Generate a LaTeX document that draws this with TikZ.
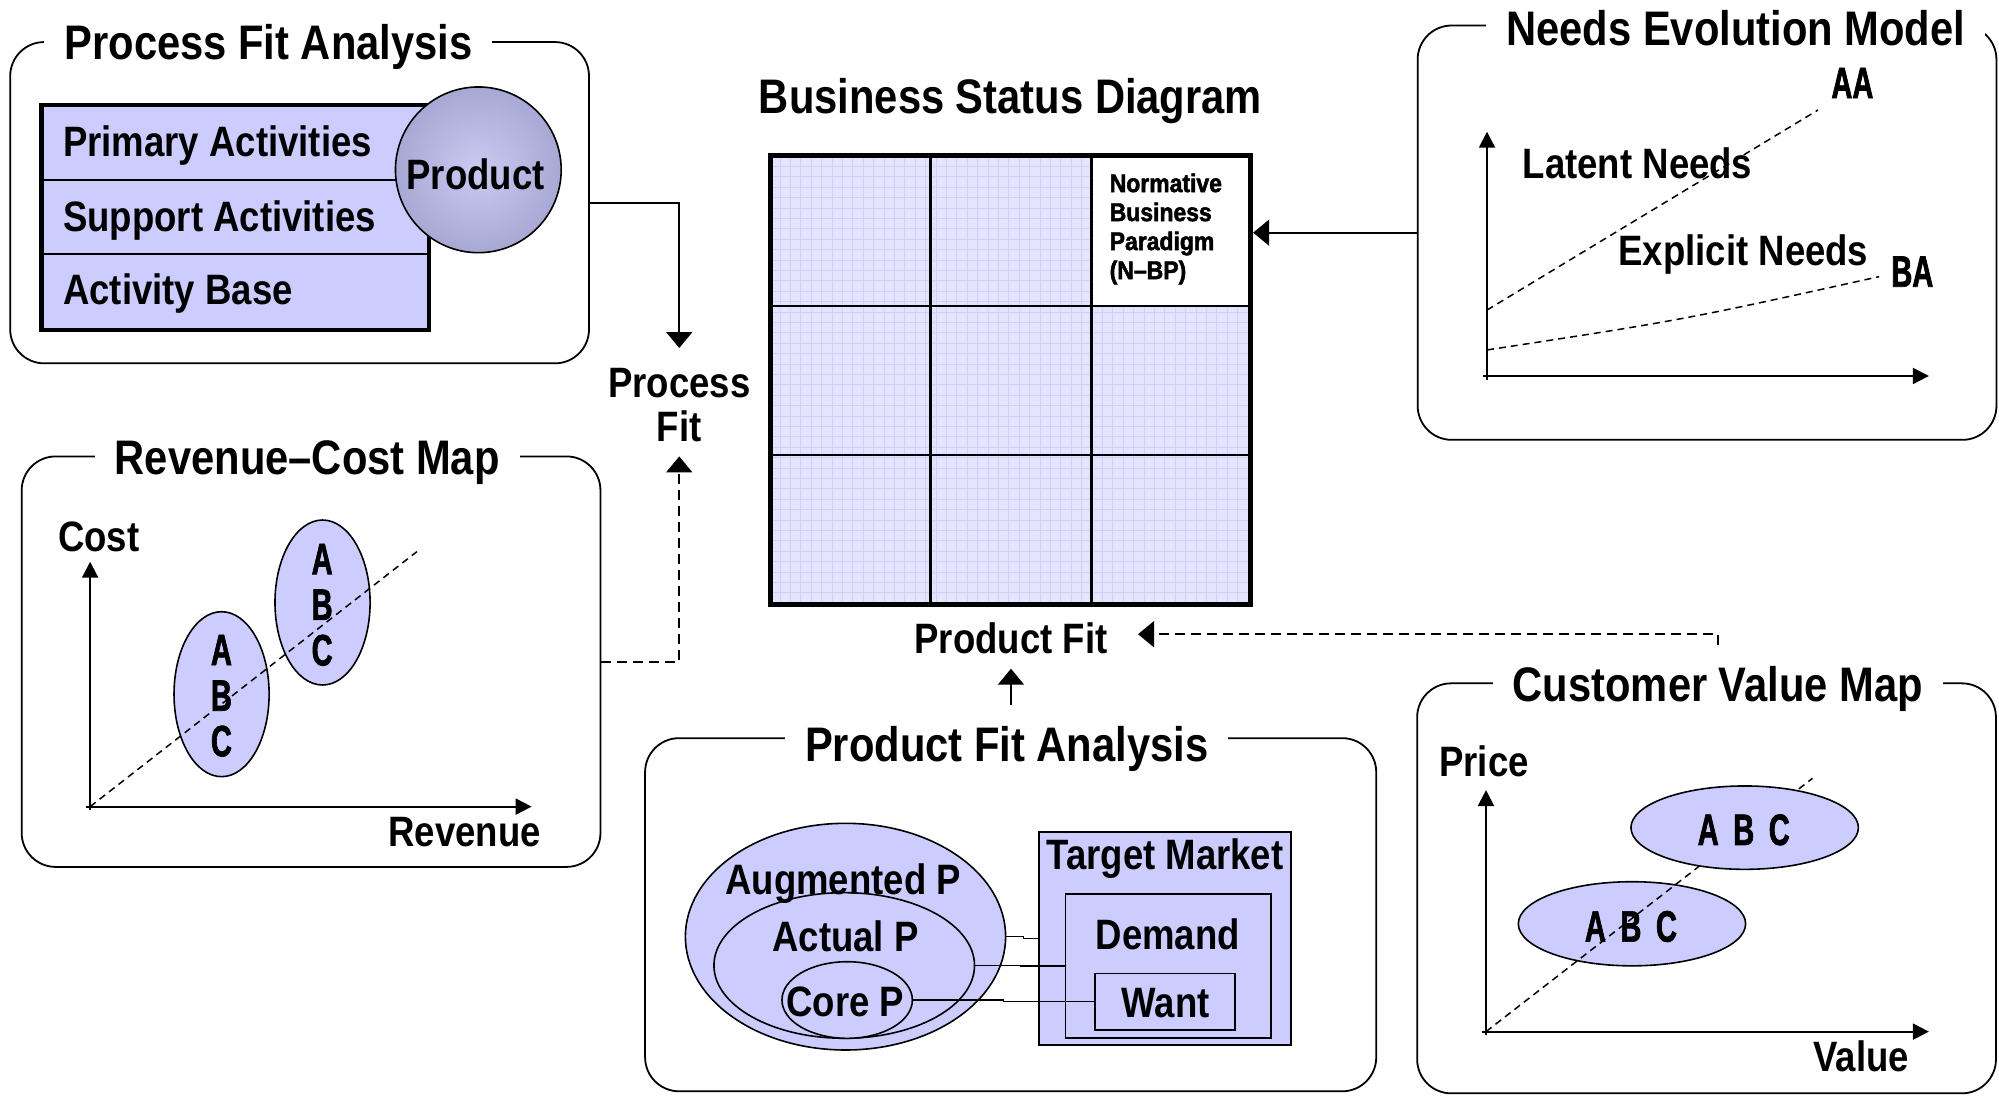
\documentclass[tikz,border=0pt]{standalone}
\usepackage{fontspec}
\setmainfont{Liberation Sans}[FakeStretch=0.86]
\newfontfamily\nbpfont{Liberation Sans}[FakeStretch=0.9, FakeBold=2]
\newfontfamily\tallfont{Liberation Sans}[UprightFont=* Bold, BoldFont=* Bold, FakeStretch=0.66, FakeBold=1.5]
\usetikzlibrary{arrows.meta, shapes.geometric, fit, calc}

\definecolor{lav}{RGB}{204,204,255}
\definecolor{gridbg}{RGB}{228,228,255}
\definecolor{gridln}{RGB}{208,208,250}
\definecolor{prodin}{RGB}{202,202,242}
\definecolor{prodout}{RGB}{168,168,212}

% one drawing unit, in points
\newcommand{\dpx}{1.2749pt}

\tikzset{
  panel/.style={draw, line width=1.8pt, rounded corners=34pt, inner sep=0},
  ttl/.style={font=\fontsize{48.5}{52}\selectfont\bfseries, fill=white,
              inner xsep=20pt, inner ysep=2pt, anchor=base},
  txt/.style={font=\fontsize{42.5}{46}\selectfont\bfseries, inner sep=0, anchor=base},
  sml/.style={font=\tallfont\fontsize{44}{46}\selectfont, inner sep=0, anchor=base},
  stack/.style={font=\tallfont\fontsize{44}{45.6}\selectfont, inner sep=0,
                anchor=north, align=center},
  conn/.style={line width=1.8pt, -{Triangle[width=26pt,length=16pt]}},
  dconn/.style={conn, dash pattern=on 10pt off 6pt},
  axis/.style={line width=2pt, -{Triangle[width=16pt,length=16pt]}},
  trend/.style={line width=1.5pt, dash pattern=on 7pt off 5pt},
  blob/.style={ellipse, draw, line width=1.6pt, fill=lav, inner sep=0},
  box/.style={rectangle, draw, fill=lav, inner sep=0},
}

\begin{document}
\begin{tikzpicture}[x=1.2749pt, y=-1.2749pt, font=\bfseries]
\useasboundingbox (0,0) rectangle (1568,860);

% ---------------- Process Fit Analysis ----------------
\node[panel, minimum width=454*\dpx, minimum height=252*\dpx] (pfa) at (235,159) {};
\node[ttl] (pfat) at (210.6,47) {Process Fit Analysis};
\node[box, line width=4.5pt, minimum width=303.9*\dpx, minimum height=176.4*\dpx] (acts) at (184.55,170.6) {};
\draw[line width=1.6pt] (32.6,141.2) -- (336.5,141.2) (32.6,199.2) -- (336.5,199.2);
\node[txt, anchor=base west] (prim) at (49.4,123) {Primary Activities};
\node[txt, anchor=base west] (supp) at (49.4,181.5) {Support Activities};
\node[txt, anchor=base west] (abase) at (49.4,239) {Activity Base};
\node[circle, draw, line width=1.6pt, inner color=prodin, outer color=prodout,
      minimum size=130*\dpx, inner sep=0] (prodc) at (375.2,133.2) {};
\node[txt] (prodt) at (373,149) {Product};

% ---------------- Process Fit ----------------
\node[txt, outer ysep=20.5pt] (proc) at (532.8,312) {Process};
\node[txt, outer ysep=14.4pt] (procfit) at (532.8,346.4) {Fit};
\draw[conn] (pfa.east) -| (proc.north);

% ---------------- Revenue-Cost Map ----------------
\node[panel, minimum width=454*\dpx, minimum height=322*\dpx] (rcm) at (244,519) {};
\node[ttl] (rcmt) at (241,372) {Revenue–Cost Map};
\coordinate (ro) at (70.7,632.7);
\draw[axis] ($(ro)+(-3,0)$) -- (417,632.7);
\draw[axis] ($(ro)+(0,3)$) -- (70.7,440.6);
\node[blob, minimum width=74.6*\dpx, minimum height=129.4*\dpx] (rc1) at (173.8,544.5) {};
\node[blob, minimum width=74.6*\dpx, minimum height=129.4*\dpx] (rc2) at (253,472.6) {};
\draw[trend] (ro) -- (327,432.7);
\node[stack] (rc1t) at (173.7,497.8) {A\\B\\C};
\node[stack] (rc2t) at (252.7,426.5) {A\\B\\C};
\node[txt] (cost) at (77.5,432.7) {Cost};
\node[txt] (rev) at (364.4,664) {Revenue};
\draw[dconn] (rcm.east) -| (procfit.south);

% ---------------- Business Status Diagram ----------------
\node[ttl] (bsdt) at (792.6,89) {Business Status Diagram};
\coordinate (g1) at (604,122);
\coordinate (g2) at (981,474);
\fill[gridbg] (g1) rectangle (g2);
\draw[gridln, line width=0.7pt, step=10.4pt] (g1) grid (g2);
\fill[white] (856,122) rectangle (981,240);
\draw[line width=2.5pt] (730,122) -- (730,474) (856,122) -- (856,474)
                        (604,240) -- (981,240) (604,357) -- (981,357);
\node[fit=(g1)(g2), draw, line width=5pt, inner sep=0] (bsd) {};
\node[font=\nbpfont\bfseries\fontsize{25.5}{29}\selectfont, anchor=north west,
      align=left, inner sep=0] (nbp) at (870.3,136) {Normative\\Business\\Paradigm\\(N–BP)};

% ---------------- Needs Evolution Model ----------------
\node[panel, minimum width=454*\dpx, minimum height=325*\dpx] (nem) at (1339,182.5) {};
\node[ttl] (nemt) at (1361.5,35.5) {Needs Evolution Model};
\coordinate (no) at (1166.4,294.9);
\draw[axis] ($(no)+(-3,0)$) -- (1513,294.9);
\draw[axis] ($(no)+(0,3)$) -- (1166.4,103.3);
\draw[trend] (1166.4,243.2) -- (1426,86.3);
\draw[trend] (1166.4,274.5) .. controls (1320,251) .. (1474,217);
\node[sml] (aa) at (1453,77) {AA};
\node[sml] (ba) at (1500,224.9) {BA};
\node[txt] (lat) at (1284.5,139.9) {Latent Needs};
\node[txt] (expl) at (1367.5,207.9) {Explicit Needs};
\draw[conn] (nem.west) -- (nem.west -| bsd.east);

% ---------------- Product Fit ----------------
\node[txt, outer xsep=30.6pt, outer ysep=14.9pt] (pfit) at (793,512.5) {Product Fit};

% ---------------- Product Fit Analysis ----------------
\node[panel, minimum width=573.5*\dpx, minimum height=277*\dpx] (pfan) at (792.75,717.5) {};
\node[ttl] (pfant) at (789.7,597.4) {Product Fit Analysis};
\coordinate (pftail) at ($(pfant.north -| pfit.south)+(0,-15)$);
\draw[conn] (pftail) -- (pfit.south);

\node[blob, minimum width=251.2*\dpx, minimum height=177.8*\dpx] (aug) at (663.2,734.7) {};
\node[blob, minimum width=204.4*\dpx, minimum height=114.2*\dpx] (act) at (662.2,757.3) {};
\node[blob, minimum width=102.3*\dpx, minimum height=60.1*\dpx] (core) at (664.5,784.4) {};
\node[txt] (augt) at (661.4,702) {Augmented P};
\node[txt] (actt) at (663.2,746.5) {Actual P};
\node[txt] (coret) at (663.2,797.4) {Core P};

\node[box, line width=2.2pt, minimum width=197.6*\dpx, minimum height=167.4*\dpx] (tm) at (913.8,736) {};
\node[box, line width=1.6pt, minimum width=161.3*\dpx, minimum height=113.2*\dpx] (dem) at (916.35,757.8) {};
\node[box, line width=1.6pt, minimum width=109.8*\dpx, minimum height=44.4*\dpx] (want) at (913.8,785.7) {};
\node[txt] (tmt) at (913.8,682.4) {Target Market};
\node[txt] (demt) at (916,745.1) {Demand};
\node[txt] (wantt) at (914.4,798.2) {Want};

\draw[line width=1.5pt] (aug.east) -- ++(13.2,0) |- (tm.west);
\draw[line width=1.5pt] (act.east) -- ++(35.6,0) |- (dem.west);
\draw[line width=1.5pt] (core.east) -- ++(71,0) |- (want.west);

% ---------------- Customer Value Map ----------------
\node[panel, minimum width=454*\dpx, minimum height=321.6*\dpx] (cvm) at (1338.6,696.8) {};
\node[ttl] (cvmt) at (1347.5,550.4) {Customer Value Map};
\coordinate (co) at (1165.6,809.2);
\draw[axis] ($(co)+(-3,0)$) -- (1513,809.2);
\draw[axis] ($(co)+(0,3)$) -- (1165.6,619.7);
\node[blob, minimum width=178.3*\dpx, minimum height=66*\dpx] (cv1) at (1280.1,724.6) {};
\draw[trend] (co) -- (1421.7,610.5);
\node[blob, minimum width=178.4*\dpx, minimum height=65.4*\dpx] (cv2) at (1368.5,649.2) {};
\node[sml] (cv1t) at (1279.3,738.6) {A\hspace{6.5pt} B\hspace{6.5pt} C};
\node[sml] (cv2t) at (1367.8,662.8) {A\hspace{6.5pt} B\hspace{6.5pt} C};
\node[txt] (price) at (1164,609.2) {Price};
\node[txt] (val) at (1460,840.6) {Value};

\coordinate (cvstub) at (1347.7,506);
\draw[dconn] (cvstub) |- ([yshift=4pt]pfit.east);
\end{tikzpicture}
\end{document}
